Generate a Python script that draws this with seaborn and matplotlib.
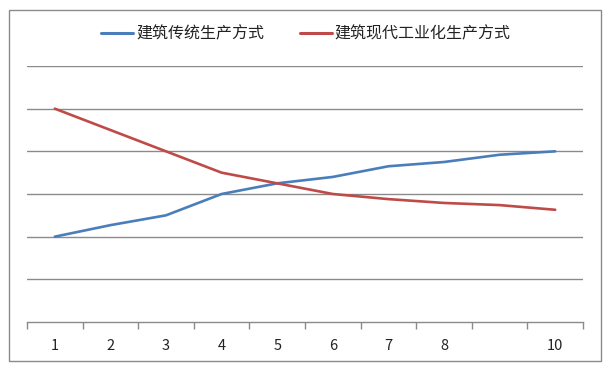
import matplotlib
matplotlib.use("Agg")
import matplotlib.pyplot as plt
import seaborn as sns
import pandas as pd
from matplotlib.patches import Rectangle

categories = [1, 2, 3, 4, 5, 6, 7, 8, 9, 10]
tick_labels = ["1", "2", "3", "4", "5", "6", "7", "8", "", "10"]
traditional = [2.0, 2.27, 2.5, 3.0, 3.25, 3.4, 3.65, 3.75, 3.92, 4.0]
modern = [5.0, 4.5, 4.0, 3.5, 3.25, 3.0, 2.88, 2.79, 2.74, 2.63]
series_names = ["建筑传统生产方式", "建筑现代工业化生产方式"]
colors = ["#4A7EBB", "#BE4B48"]

df = pd.DataFrame({
    "x": categories * 2,
    "y": traditional + modern,
    "series": [series_names[0]] * len(categories) + [series_names[1]] * len(categories),
})

sns.set_theme(style="white")
plt.rcParams['font.family'] = ['Noto Sans CJK SC', 'DejaVu Sans']

fig = plt.figure(figsize=(6.12, 3.67), dpi=100)
ax = fig.add_axes([27/612, 1 - 322/367, (583-27)/612, (322-66)/367])

sns.lineplot(data=df, x="x", y="y", hue="series", palette=colors, linewidth=1.9,
             ax=ax, legend=False)

ax.set_xlim(0.5, 10.5)
ax.set_ylim(0, 6)
ax.set_yticks([1, 2, 3, 4, 5, 6])
ax.yaxis.grid(True, color="#8a8a8a", linewidth=1.0)
ax.xaxis.grid(False)
ax.set_yticklabels([])
ax.tick_params(axis="y", length=0)
for s in ["left", "right", "top"]:
    ax.spines[s].set_visible(False)
ax.spines["bottom"].set_color("#8a8a8a")
ax.spines["bottom"].set_linewidth(1.0)

ax.set_xticks([i + 0.5 for i in range(0, 11)])
ax.set_xticklabels([])
ax.tick_params(axis="x", which="major", length=5, width=1.0, color="#8a8a8a", direction="out", bottom=True)
ax.set_xticks(categories, minor=True)
ax.set_xticklabels(tick_labels, minor=True)
ax.tick_params(axis="x", which="minor", length=0, pad=12, labelsize=10.5, labelcolor="#222222")
ax.set_xlabel("")
ax.set_ylabel("")

from matplotlib.lines import Line2D
handles = [Line2D([0], [0], color=c, lw=2.2) for c in colors]
fig.legend(handles, series_names, loc="center", bbox_to_anchor=(0.5, 1 - 34/367), ncol=2,
           frameon=False, fontsize=11.5, handlelength=2.0, handletextpad=0.2,
           columnspacing=2.2, labelcolor="#222222")

fig.patches.append(Rectangle((9/612, 1 - 361/367), (601-9)/612, (361-10)/367,
                             transform=fig.transFigure, fill=False,
                             edgecolor="#8a8a8a", linewidth=1.0))

fig.savefig("out.png", dpi=100)
